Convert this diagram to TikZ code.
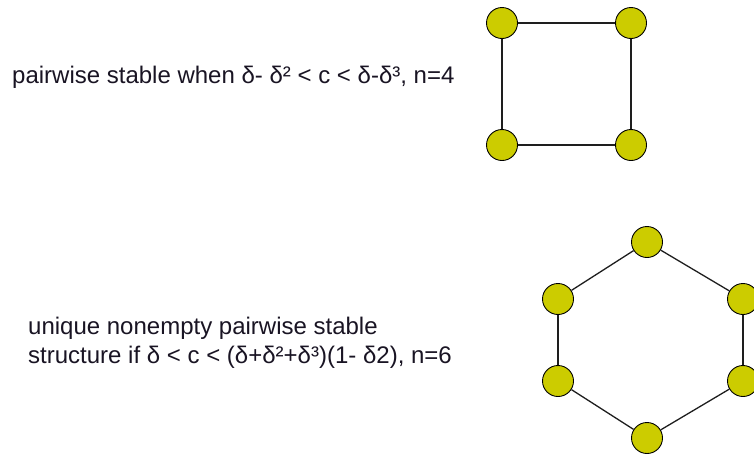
\documentclass[tikz,border=0pt]{standalone}
\usepackage{fontspec}
\setmainfont{Liberation Sans}
\definecolor{nodeyellow}{RGB}{204,204,0}
\definecolor{edgegray}{RGB}{30,30,30}
\definecolor{txt}{RGB}{25,20,35}
\tikzset{
  vtx/.style={circle, draw=black, line width=0.9pt, fill=nodeyellow, minimum size=31pt, inner sep=0pt},
  edge/.style={draw=edgegray, line width=1.3pt},
  lbl/.style={anchor=base west, inner sep=0pt, font=\fontsize{24}{29}\selectfont, text=txt}
}
\begin{document}
\begin{tikzpicture}[x=1pt,y=-1pt]
\useasboundingbox (0,0) rectangle (754,453);
% square
\node[vtx] (a) at (502,23) {};
\node[vtx] (b) at (631,23) {};
\node[vtx] (c) at (631,145) {};
\node[vtx] (d) at (502,145) {};
\draw[edge] (a) -- (b);
\draw[edge] (b) -- (c);
\draw[edge] (c) -- (d);
\draw[edge] (d) -- (a);
% hexagon
\node[vtx] (h1) at (647,242) {};
\node[vtx] (h2) at (743,299) {};
\node[vtx] (h3) at (743,381) {};
\node[vtx] (h4) at (647,438) {};
\node[vtx] (h5) at (558,381) {};
\node[vtx] (h6) at (558,299) {};
\draw[edge] (h1) -- (h2);
\draw[edge] (h2) -- (h3);
\draw[edge] (h3) -- (h4);
\draw[edge] (h4) -- (h5);
\draw[edge] (h5) -- (h6);
\draw[edge] (h6) -- (h1);
% labels
\node[lbl] (t1) at (12,83) {pairwise stable when δ- δ² < c < δ-δ³, n=4};
\node[lbl] (t2) at (28,334) {unique nonempty pairwise stable};
\node[lbl] (t3) at (28,363) {structure if δ < c < (δ+δ²+δ³)(1- δ2), n=6};
\end{tikzpicture}
\end{document}
